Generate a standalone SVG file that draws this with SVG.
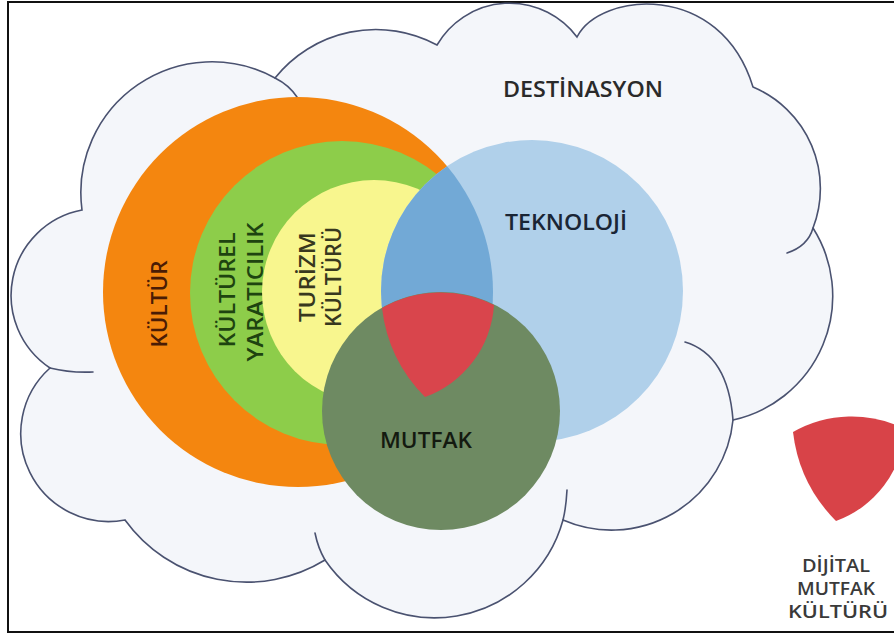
<svg xmlns="http://www.w3.org/2000/svg" width="894" height="635" viewBox="0 0 894 635">
  <defs>
    <style>
      .lbl { font-family: "Open Sans", "Noto Sans", "Liberation Sans", sans-serif; font-weight: 600; }
      .cloud { fill: #f4f6fa; stroke: #4a5270; stroke-width: 1.6; }
      .hook { fill: none; stroke: #4a5270; stroke-width: 1.6; stroke-linecap: round; }
    </style>
    <clipPath id="orangeClip"><circle cx="298" cy="292" r="195"/></clipPath>
    <path id="reuleaux" d="M382,308 A119,119 0 0 1 494,305 A105,105 0 0 1 425,397 A151,151 0 0 1 382,308 Z"/>
  </defs>

  <rect x="0" y="0" width="894" height="635" fill="#ffffff"/>
  <rect x="8" y="2" width="892" height="630" fill="none" stroke="#111111" stroke-width="2"/>

  <g id="destinasyon">
    <path class="cloud" d="M82,210 A131,131 0 0 1 275,78 A129,129 0 0 1 437,45 A84,84 0 0 1 577,37 C600,-8 720,-20 753,87 A110,110 0 0 1 813,228 A127,127 0 0 1 733,420 A122,122 0 0 1 563,520 A133,133 0 0 1 325,560 A150,150 0 0 1 125,520 A88,88 0 0 1 50,368 A87,87 0 0 1 82,210 Z"/>
    <path class="hook" d="M275,78 Q289,85 297,97"/>
    <path class="hook" d="M813,228 Q808,246 787,253"/>
    <path class="hook" d="M685,342 Q728,355 733,420"/>
    <path class="hook" d="M567,490 Q566,508 563,520"/>
    <path class="hook" d="M325,560 Q318,548 315,533"/>
    <path class="hook" d="M50,368 Q70,373 93,372"/>
    <text class="lbl" x="583" y="97" font-size="22" fill="#2a2a2a" text-anchor="middle" textLength="160" lengthAdjust="spacingAndGlyphs">DESTİNASYON</text>
  </g>

  <g id="kultur">
    <circle cx="298" cy="292" r="195" fill="#f4860f"/>
    <text class="lbl" transform="translate(167,304) rotate(-90)" x="0" y="0" font-size="22" fill="#4a1c05" text-anchor="middle" textLength="87" lengthAdjust="spacingAndGlyphs">KÜLTÜR</text>
  </g>

  <g id="kulturel-yaraticilik">
    <circle cx="342" cy="293" r="152" fill="#8dcd4a"/>
    <text class="lbl" transform="translate(235,290) rotate(-90)" x="0" y="0" font-size="21" fill="#1e4410" text-anchor="middle" textLength="115" lengthAdjust="spacingAndGlyphs">KÜLTÜREL</text>
    <text class="lbl" transform="translate(263,292) rotate(-90)" x="0" y="0" font-size="21" fill="#1e4410" text-anchor="middle" textLength="139" lengthAdjust="spacingAndGlyphs">YARATICILIK</text>
  </g>

  <g id="turizm-kulturu">
    <circle cx="374" cy="292" r="112" fill="#f8f68e"/>
    <text class="lbl" transform="translate(315,277) rotate(-90)" x="0" y="0" font-size="21" fill="#38381e" text-anchor="middle" textLength="90" lengthAdjust="spacingAndGlyphs">TURİZM</text>
    <text class="lbl" transform="translate(341,277) rotate(-90)" x="0" y="0" font-size="21" fill="#38381e" text-anchor="middle" textLength="100" lengthAdjust="spacingAndGlyphs">KÜLTÜRÜ</text>
  </g>

  <g id="teknoloji">
    <circle cx="532" cy="291" r="151" fill="#b0d0ea"/>
    <circle cx="532" cy="291" r="151" fill="#72a9d6" clip-path="url(#orangeClip)"/>
    <text class="lbl" x="566" y="230" font-size="21" fill="#1a2535" text-anchor="middle" textLength="122" lengthAdjust="spacingAndGlyphs">TEKNOLOJİ</text>
  </g>

  <g id="mutfak">
    <circle cx="441" cy="411" r="119" fill="#6e8a62"/>
    <use href="#reuleaux" fill="#d9454c"/>
    <text class="lbl" x="426" y="448" font-size="21" fill="#141a10" text-anchor="middle" textLength="92" lengthAdjust="spacingAndGlyphs">MUTFAK</text>
  </g>

  <g id="dijital-mutfak-kulturu">
    <use href="#reuleaux" transform="translate(411,124)" fill="#d84348"/>
    <text class="lbl" x="836" y="572" font-size="18" fill="#3a3a3a" text-anchor="middle" textLength="68" lengthAdjust="spacingAndGlyphs">DİJİTAL</text>
    <text class="lbl" x="836" y="595" font-size="18" fill="#3a3a3a" text-anchor="middle" textLength="78" lengthAdjust="spacingAndGlyphs">MUTFAK</text>
    <text class="lbl" x="838" y="618" font-size="18" fill="#3a3a3a" text-anchor="middle" textLength="100" lengthAdjust="spacingAndGlyphs">KÜLTÜRÜ</text>
  </g>
</svg>
